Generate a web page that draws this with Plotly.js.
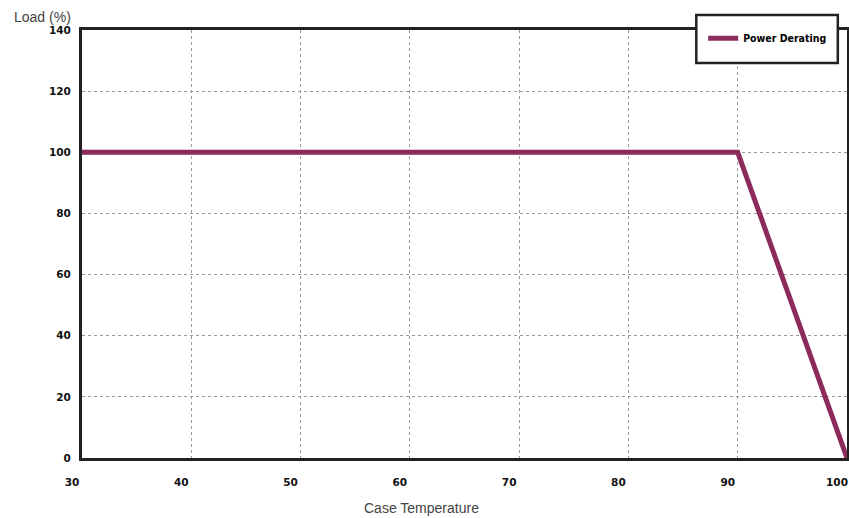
<!DOCTYPE html>
<html>
<head>
<meta charset="utf-8">
<script src="https://cdn.plot.ly/plotly-3.0.1.min.js"></script>
<style>html,body{margin:0;padding:0;background:#fff;}#chart{width:849px;height:518px;}</style>
</head>
<body>
<div id="chart"></div>
<script>
const caseTemperature = [30, 90, 100];
const loadPercent = [100, 100, 0];
const seriesName = 'Power Derating';
const xTicks = [30, 40, 50, 60, 70, 80, 90, 100];
const yTicks = [0, 20, 40, 60, 80, 100, 120, 140];

const trace = {
  x: caseTemperature,
  y: loadPercent,
  type: 'scatter',
  mode: 'lines',
  name: seriesName,
  line: {color: '#8c2a5c', width: 5},
  showlegend: true
};

const tickFont = {family: 'DejaVu Sans', size: 10.5, color: '#111', weight: 700};

const layout = {
  width: 849,
  height: 518,
  margin: {l: 82, r: 2, t: 30, b: 60},
  paper_bgcolor: '#fff',
  plot_bgcolor: '#fff',
  showlegend: true,
  xaxis: {
    range: [30, 100],
    tickvals: xTicks,
    ticktext: xTicks.map(String),
    ticks: '',
    tickfont: tickFont,
    ticklabelshift: -10,
    ticklabelstandoff: 12,
    showgrid: true,
    gridcolor: '#9a9a9a',
    gridwidth: 1,
    griddash: '3px,3px',
    showline: true,
    mirror: true,
    linecolor: '#222',
    linewidth: 3,
    zeroline: false,
    fixedrange: true
  },
  yaxis: {
    range: [0, 140],
    tickvals: yTicks,
    ticktext: yTicks.map(String),
    ticks: '',
    tickfont: tickFont,
    ticklabelstandoff: 6,
    showgrid: true,
    gridcolor: '#9a9a9a',
    gridwidth: 1,
    griddash: '3px,3px',
    showline: true,
    mirror: true,
    linecolor: '#222',
    linewidth: 3,
    zeroline: false,
    fixedrange: true
  },
  shapes: [{
    type: 'rect', xref: 'paper', yref: 'paper', layer: 'above',
    x0: 0.803, x1: 0.988, y0: 0.923, y1: 1.035,
    fillcolor: '#fff', line: {color: '#222', width: 2.5}
  }],
  legend: {
    x: 0.812, y: 0.981, xanchor: 'left', yanchor: 'middle',
    bgcolor: 'rgba(0,0,0,0)', borderwidth: 0,
    font: {family: 'DejaVu Sans Condensed, DejaVu Sans', size: 10.5, color: '#000', weight: 700},
    itemwidth: 30
  },
  annotations: [
    {text: 'Load (%)', xref: 'paper', yref: 'paper', x: -0.091, y: 1.030,
     xanchor: 'left', yanchor: 'middle', showarrow: false,
     font: {family: 'Liberation Sans, Arial', size: 14, color: '#444'}},
    {text: 'Case Temperature', xref: 'paper', yref: 'paper', x: 0.444, y: -0.117,
     xanchor: 'center', yanchor: 'middle', showarrow: false,
     font: {family: 'Liberation Sans, Arial', size: 14, color: '#444'}}
  ]
};

Plotly.newPlot('chart', [trace], layout, {displayModeBar: false, staticPlot: true});
</script>
</body>
</html>
